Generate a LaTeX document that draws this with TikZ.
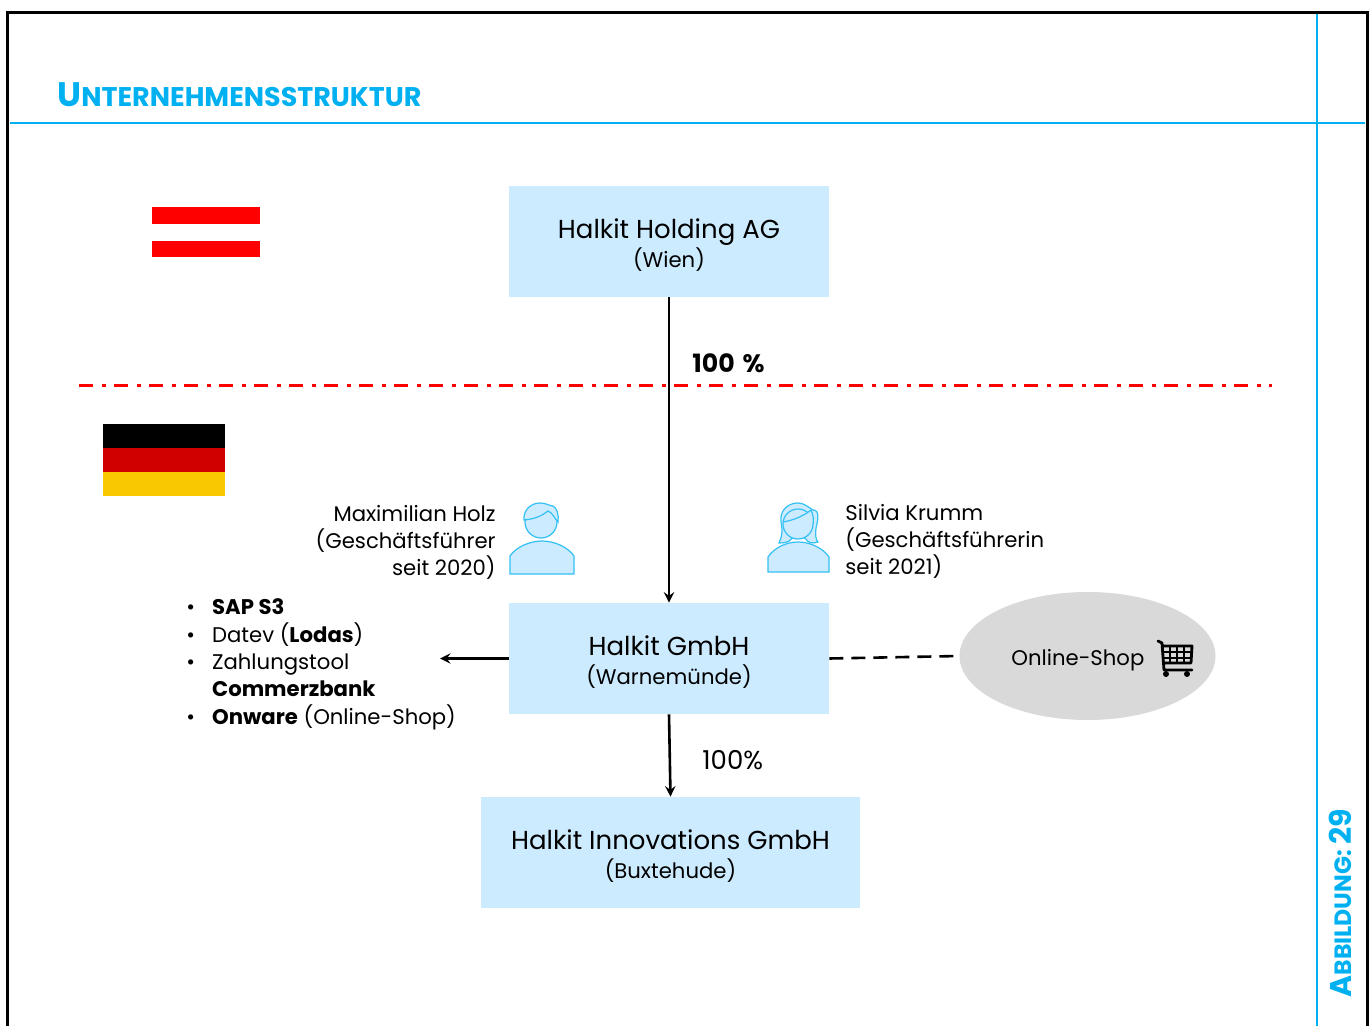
\documentclass[tikz,border=0pt]{standalone}
\usepackage{fontspec}
\setmainfont{Poppins}
\usetikzlibrary{
    arrows,
    calc,
    shapes,
    positioning
}
\definecolor{halkitblue}{HTML}{00B0F0}
\definecolor{boxblue}{HTML}{CCEBFF}
\definecolor{shopgrey}{HTML}{D9D9D9}
\definecolor{flaggold}{HTML}{F8C800}
\definecolor{flagred}{HTML}{D00000}
\tikzset{
    company/.style={fill=boxblue, minimum height=55.5pt, align=center, font=\fontsize{13}{14.5}\selectfont},
    label/.style={font=\fontsize{10.6}{13.5}\selectfont},
    person/.style={draw=halkitblue!80, fill=boxblue, line width=0.6pt},
    link/.style={line width=1.3pt}
}
\newcommand{\companytext}[2]{\rule{0pt}{13pt}#1\\{\fontsize{10.6}{14.5}\selectfont #2}}
\begin{document}
\begin{tikzpicture}[x=0.5pt, y=-0.5pt, >=stealth]
    \useasboundingbox (0, 0) rectangle (1371, 1026);
    % frame
    \draw[line width=1.5pt] (7.5, 1026) -- (7.5, 12.5) -- (1367.5, 12.5) -- (1367.5, 1026);
    \draw[halkitblue, line width=0.55pt]
    (10, 123) -- (1365, 123)
    (1317, 14) -- (1317, 1026);
    \node[anchor=base west, inner sep=0pt, text=halkitblue, font=\bfseries\fontsize{13.5}{14}\selectfont] (title) at (57, 107)
    {{\fontsize{17}{17.5}\selectfont U}NTERNEHMENSSTRUKTUR};
    \node[anchor=base west, rotate=90, inner sep=0pt, text=halkitblue, font=\bfseries\fontsize{11.8}{11}\selectfont] (figno) at (1351, 998)
    {{\fontsize{15}{14}\selectfont A}BBILDUNG: {\fontsize{15}{14}\selectfont 29}};
    % flags
    \fill[red] (152, 207) rectangle (260, 224);
    \fill[red] (152, 241) rectangle (260, 257);
    \fill[black] (103, 424) rectangle (225, 448);
    \fill[flagred] (103, 448) rectangle (225, 472);
    \fill[flaggold] (103, 472) rectangle (225, 496);
    % companies
    \node[company, minimum width=160pt] (holding) at (669, 241.5) {\companytext{Halkit Holding AG}{(Wien)}};
    \node[company, minimum width=160pt] (gmbh) at (669, 658.5) {\companytext{Halkit GmbH}{(Warnemünde)}};
    \node[company, minimum width=189.5pt] (innovations) at (670.5, 852.5) {\companytext{Halkit Innovations GmbH}{(Buxtehude)}};
    \node[ellipse, fill=shopgrey, minimum width=128pt, minimum height=64pt, inner sep=0pt] (shop) at (1087.5, 656) {};
    \node[label, anchor=base west, inner sep=0pt] (shoplabel) at (1011, 665) {Online-Shop};
    % border line
    \draw[red, line width=1.5pt, dash pattern=on 7pt off 4.5pt on 2pt off 4pt] (79, 386) -- (1272, 386);
    % connectors
    \coordinate (toolsend) at (440, 658.5);
    \draw[link, ->] (holding.south) -- (gmbh.north);
    \draw[link, ->] (gmbh.south) -- (innovations.north);
    \draw[link, ->] (gmbh.west) -- (toolsend);
    \draw[link, dash pattern=on 7pt off 4pt] (gmbh.east) -- (shop.west);
    \node[anchor=base west, inner sep=0pt, font=\bfseries\fontsize{12.6}{13}\selectfont] (share) at (692, 373) {100\hspace{4pt}\%};
    \node[anchor=base west, inner sep=0pt, font=\fontsize{13}{14}\selectfont] (sharetwo) at (702, 769) {100\%};
    % managers
    \node[label, anchor=north east, align=right, inner sep=0pt] (holz) at (496, 505) {Maximilian Holz\\(Geschäftsführer\\seit 2020)};
    \node[label, anchor=north west, align=left, inner sep=0pt] (krumm) at (845, 504) {Silvia Krumm\\(Geschäftsführerin\\seit 2021)};
    \draw[person] (510, 574) -- (510, 556) .. controls (516, 547) and (530, 541) .. (542, 541)
    .. controls (554, 541) and (568, 547) .. (574, 556) -- (574, 574) -- cycle;
    \draw[person] (541, 522) circle (16);
    \draw[person] (524, 520) .. controls (523, 510) and (531, 503) .. (540, 503)
    .. controls (546, 503) and (550, 506) .. (553, 506)
    .. controls (557, 508) and (559, 515) .. (558, 522)
    .. controls (555, 519) and (552, 512) .. (548, 511)
    .. controls (544, 514) and (537, 519) .. (524, 520) -- cycle;
    \draw[person] (768, 572) -- (768, 557) .. controls (774, 548) and (786, 542) .. (798, 542)
    .. controls (810, 542) and (823, 548) .. (829, 557) -- (829, 572) -- cycle;
    \draw[person] (779, 543) .. controls (785, 530) and (780, 525) .. (781, 517)
    .. controls (782, 508) and (790, 503) .. (798, 503)
    .. controls (804, 503) and (808, 507) .. (813, 510)
    .. controls (820, 510) and (818, 520) .. (816, 528)
    .. controls (815, 535) and (816, 540) .. (818, 542)
    .. controls (812, 544) and (808, 543) .. (805, 538) -- (792, 538)
    .. controls (790, 542) and (785, 543) .. (779, 543) -- cycle;
    \draw[person] (798, 524) circle (15);
    \draw[person] (783, 522) .. controls (795, 520) and (805, 515) .. (811, 510)
    .. controls (813, 514) and (814, 520) .. (813, 524);
    % cart
    \draw[line width=1.4pt, line cap=round, line join=round]
    (1158, 641) -- (1162, 643) -- (1164, 670) -- (1192, 670)
    (1163, 646) -- (1192, 646) -- (1191, 663) -- (1164, 663);
    \draw[line width=0.9pt] (1163.5, 652) -- (1191.5, 652) (1164, 658) -- (1191, 658)
    (1170, 646) -- (1170, 663) (1177, 646) -- (1177, 663) (1184, 646) -- (1184, 663);
    \fill (1166, 674) circle (3) (1187, 674) circle (3);
    % systems
    \node[label, anchor=north west, inner sep=0pt] (tools) at (186, 595) {%
        \begin{tabular}{@{}l@{\hspace{8.5pt}}l@{}}
            • & \textbf{SAP S3}\\
            • & Datev (\textbf{Lodas})\\
            • & Zahlungstool\\
              & \textbf{Commerzbank}\\
            • & \textbf{Onware} (Online-Shop)
        \end{tabular}};
\end{tikzpicture}
\end{document}
